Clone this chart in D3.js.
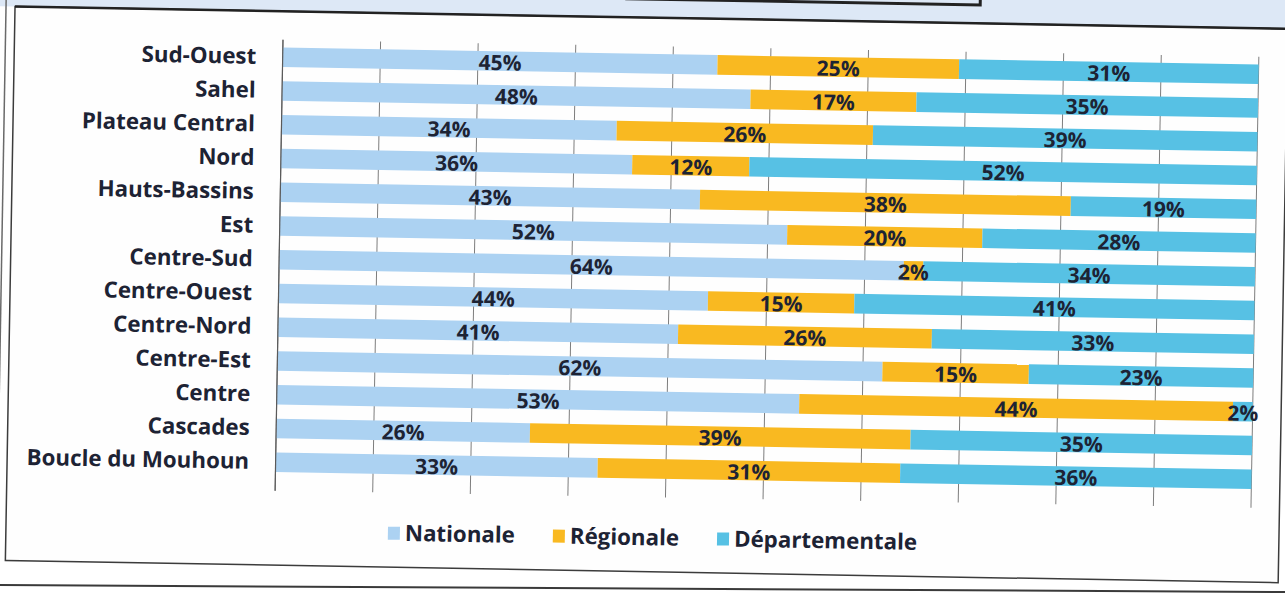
<!DOCTYPE html>
<html>
<head>
<meta charset="utf-8">
<script src="https://cdn.jsdelivr.net/npm/d3@7"></script>
<style>
  html, body { margin: 0; padding: 0; background: #ffffff; }
  svg { display: block; }
  text { font-family: "Open Sans", "Lato", sans-serif; font-weight: 700; fill: #1d2334; }
</style>
</head>
<body>
<svg id="chart" width="1285" height="601"></svg>
<script>
// Share of each level (national / regional / departmental), by region
const categories = ["Sud-Ouest", "Sahel", "Plateau Central", "Nord", "Hauts-Bassins", "Est",
  "Centre-Sud", "Centre-Ouest", "Centre-Nord", "Centre-Est", "Centre", "Cascades", "Boucle du Mouhoun"];
const nationale      = [45, 48, 34, 36, 43, 52, 64, 44, 41, 62, 53, 26, 33];
const regionale      = [25, 17, 26, 12, 38, 20,  2, 15, 26, 15, 44, 39, 31];
const departementale = [31, 35, 39, 52, 19, 28, 34, 41, 33, 23,  2, 35, 36];
const seriesNames  = ["Nationale", "Régionale", "Départementale"];
const seriesColors = ["#acd2f2", "#f9b921", "#57c1e4"];
const gridTicks = [0, 0.1, 0.2, 0.3, 0.4, 0.5, 0.6, 0.7, 0.8, 0.9, 1];

const rows = categories.map((c, i) => ({
  region: c,
  "Nationale": nationale[i],
  "Régionale": regionale[i],
  "Départementale": departementale[i]
}));

const svg = d3.select("#chart");
const W = 1285, H = 601;

// outer page edge line (sits lower than the tilted sheet)
svg.append("line")
  .attr("x1", 0).attr("y1", 585).attr("x2", W).attr("y2", 592)
  .attr("stroke", "#3a3a3a").attr("stroke-width", 2);

// the sheet is slightly tilted
const sheet = svg.append("g").attr("transform", "rotate(1, 640, 300)");

// tinted band above the chart frame
sheet.append("rect")
  .attr("x", -60).attr("y", -80).attr("width", W + 120).attr("height", 97.5)
  .attr("fill", "#dde8f6");
// title box bottom edge
sheet.append("path")
  .attr("d", "M620,-1H975V-40")
  .attr("fill", "none").attr("stroke", "#222").attr("stroke-width", 3);

// chart frame
sheet.append("rect")
  .attr("x", 10).attr("y", 17.5).attr("width", 1273).attr("height", 554)
  .attr("fill", "#fefefe").attr("stroke", "#3c3c3c").attr("stroke-width", 1.5);
sheet.append("line")
  .attr("x1", 10).attr("y1", 17.5).attr("x2", 1283).attr("y2", 17.5)
  .attr("stroke", "#222").attr("stroke-width", 2.5);
sheet.append("line")
  .attr("x1", 1).attr("y1", 10).attr("x2", 1).attr("y2", 585)
  .attr("stroke", "#6a6a6a").attr("stroke-width", 1.5);

const x = d3.scaleLinear().domain([0, 1]).range([278.5, 1254.5]);
const y = d3.scaleBand().domain(categories).range([46.7, 485.5])
  .paddingInner(0.42).paddingOuter(0.21);

// vertical gridlines behind the bars
sheet.append("g")
  .selectAll("line").data(gridTicks).join("line")
  .attr("x1", d => x(d)).attr("x2", d => x(d))
  .attr("y1", 46).attr("y2", 497)
  .attr("stroke", "#7d7d7d").attr("stroke-width", 1);

// 100% stacked series
const stack = d3.stack().keys(seriesNames).offset(d3.stackOffsetExpand);
const layers = stack(rows);

const layerG = sheet.append("g").selectAll("g").data(layers).join("g")
  .attr("fill", (d, i) => seriesColors[i]);

layerG.selectAll("rect").data(d => d.map(s => ({ s, key: d.key }))).join("rect")
  .attr("x", d => x(d.s[0]))
  .attr("width", d => x(d.s[1]) - x(d.s[0]))
  .attr("y", d => y(d.s.data.region))
  .attr("height", y.bandwidth());

// category axis line
sheet.append("line")
  .attr("x1", x(0)).attr("x2", x(0)).attr("y1", 46).attr("y2", 497)
  .attr("stroke", "#5a5a5a").attr("stroke-width", 1.2);

// data labels centred in each segment
layers.forEach(layer => {
  sheet.append("g").selectAll("text").data(layer).join("text")
    .attr("x", d => x((d[0] + d[1]) / 2))
    .attr("y", d => y(d.data.region) + y.bandwidth() / 2 + 9)
    .attr("text-anchor", "middle")
    .attr("font-size", 21)
    .text(d => d.data[layer.key] + "%");
});

// category labels
sheet.append("g").selectAll("text").data(categories).join("text")
  .attr("x", 252)
  .attr("y", d => y(d) + y.bandwidth() / 2 + 7)
  .attr("text-anchor", "end")
  .attr("font-size", 22.3)
  .text(d => d);

// legend
const legend = sheet.append("g");
let lx = 392;
seriesNames.forEach((name, i) => {
  legend.append("rect")
    .attr("x", lx).attr("y", 531).attr("width", 12).attr("height", 13)
    .attr("fill", seriesColors[i]);
  const t = legend.append("text")
    .attr("x", lx + 17).attr("y", 545)
    .attr("font-size", 22.3)
    .text(name);
  lx += 17 + t.node().getComputedTextLength() + 38;
});
</script>
</body>
</html>
